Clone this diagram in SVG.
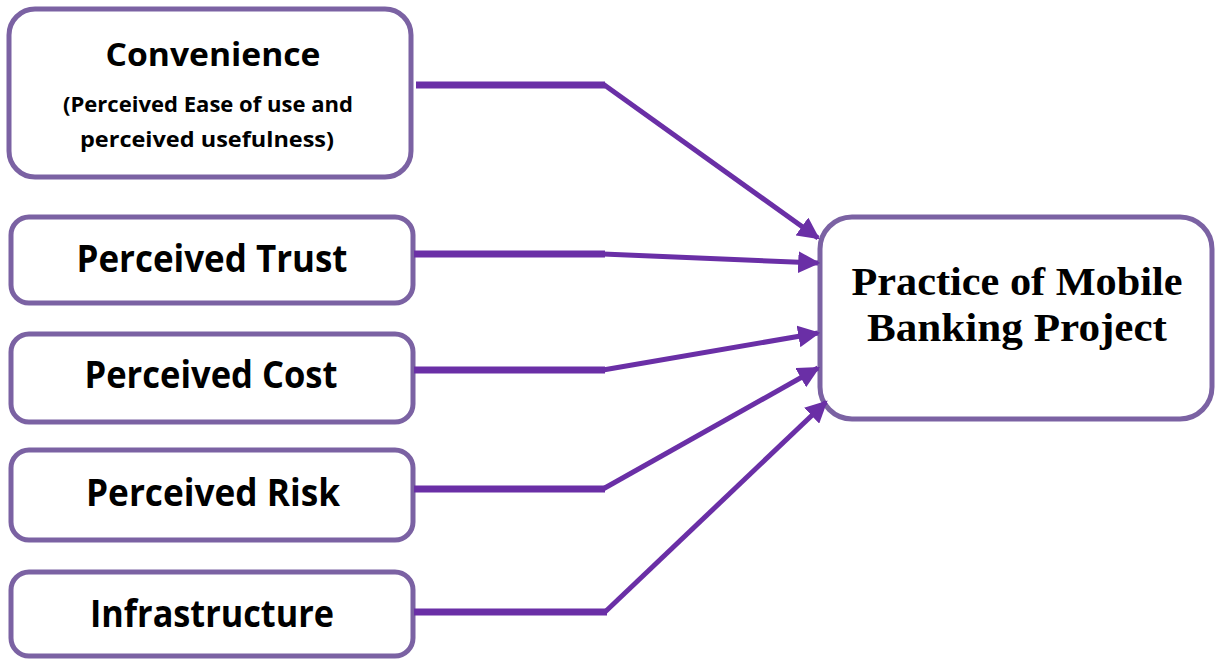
<svg xmlns="http://www.w3.org/2000/svg" width="1217" height="662" viewBox="0 0 1217 662">
<style>
.box{fill:#ffffff;stroke:#7b62a3;stroke-width:5}
.lbl{font-family:"Open Sans","Liberation Sans",sans-serif;font-weight:bold;fill:#000;text-anchor:middle}
.tgt{font-family:"Liberation Serif","Times New Roman",serif;font-weight:bold;fill:#000;text-anchor:middle}
.h{fill:none;stroke:#6a2fa6;stroke-width:7}
.d{fill:none;stroke:#6a2fa6;stroke-width:5}
</style>
<defs>
<marker id="ah" viewBox="0 0 10 10" refX="9" refY="5" markerWidth="4.4" markerHeight="4.4" orient="auto" markerUnits="strokeWidth">
<path d="M0,0 L10,5 L0,10 z" fill="#6a2fa6"/>
</marker>
</defs>
<rect width="1217" height="662" fill="#ffffff"/>
<g id="n-convenience">
<rect class="box" x="9" y="9" width="402" height="168" rx="26"/>
<text class="lbl" x="213" y="66" font-size="33" textLength="215" lengthAdjust="spacingAndGlyphs">Convenience</text>
<text class="lbl" x="208" y="112" font-size="21" textLength="290" lengthAdjust="spacingAndGlyphs">(Perceived Ease of use and</text>
<text class="lbl" x="207" y="147" font-size="21" textLength="254" lengthAdjust="spacingAndGlyphs">perceived usefulness)</text>
</g>
<g id="n-trust">
<rect class="box" x="11" y="217" width="402" height="86" rx="18"/>
<text class="lbl" x="212" y="272" font-size="37" textLength="271" lengthAdjust="spacingAndGlyphs">Perceived Trust</text>
</g>
<g id="n-cost">
<rect class="box" x="11" y="334" width="402" height="88" rx="18"/>
<text class="lbl" x="211" y="388" font-size="37" textLength="253" lengthAdjust="spacingAndGlyphs">Perceived Cost</text>
</g>
<g id="n-risk">
<rect class="box" x="11" y="450" width="402" height="90" rx="18"/>
<text class="lbl" x="213" y="506" font-size="37" textLength="254" lengthAdjust="spacingAndGlyphs">Perceived Risk</text>
</g>
<g id="n-infra">
<rect class="box" x="11" y="572" width="402" height="84" rx="18"/>
<text class="lbl" x="212" y="627" font-size="37" textLength="244" lengthAdjust="spacingAndGlyphs">Infrastructure</text>
</g>
<g id="n-practice">
<rect class="box" x="820" y="217" width="392" height="202" rx="32"/>
<text class="tgt" x="1017" y="295" font-size="40" textLength="331" lengthAdjust="spacingAndGlyphs">Practice of Mobile</text>
<text class="tgt" x="1017" y="341" font-size="40" textLength="300" lengthAdjust="spacingAndGlyphs">Banking Project</text>
</g>
<g id="connectors">
<path class="h" d="M416,85 H605"/>
<path class="d" d="M603,84 L818,238" marker-end="url(#ah)"/>
<path class="h" d="M414,254 H605"/>
<path class="d" d="M603,254 L818,263" marker-end="url(#ah)"/>
<path class="h" d="M414,370 H605"/>
<path class="d" d="M603,370 L818,333" marker-end="url(#ah)"/>
<path class="h" d="M414,489 H605"/>
<path class="d" d="M603,489 L818,368" marker-end="url(#ah)"/>
<path class="h" d="M414,612 H607"/>
<path class="d" d="M605,612 L826,402" marker-end="url(#ah)"/>
</g>
</svg>
